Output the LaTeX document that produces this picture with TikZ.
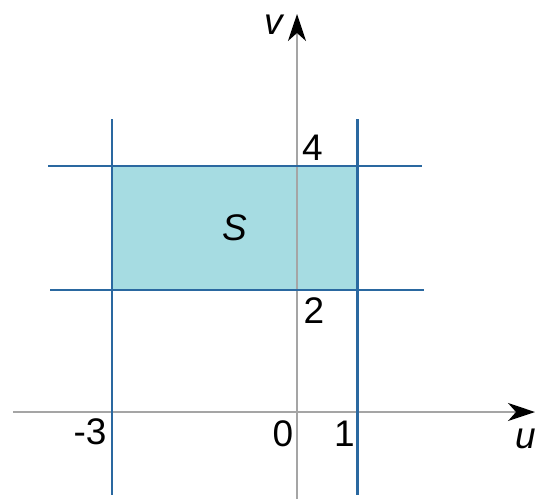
\documentclass[tikz,border=0pt]{standalone}
\usepackage{fontspec}
\setmainfont{Liberation Sans}
\usetikzlibrary{arrows.meta}
\definecolor{regionfill}{RGB}{166,220,226}
\definecolor{boundblue}{RGB}{42,104,160}
\definecolor{axisgray}{RGB}{165,165,165}
\tikzset{
  axisline/.style={draw=axisgray,line width=1.8pt,-{Stealth[length=27pt,width=18pt,inset=8pt,color=black]}},
  boundline/.style={draw=boundblue,line width=2.8pt},
  lab/.style={inner sep=0pt,font=\fontsize{37}{44}\selectfont},
}
\begin{document}
\begin{tikzpicture}[x=1pt,y=-1pt]
\useasboundingbox (0,0) rectangle (537,499);
% region
\fill[regionfill] (112,166) rectangle (357.5,290);
% axes
\coordinate (uL) at (13,412);
\coordinate (uR) at (535,412);
\coordinate (vB) at (297,499);
\coordinate (vT) at (297,14);
\draw[axisline] (uL) -- (uR);
\draw[axisline] (vB) -- (vT);
% boundary lines
\coordinate (a1) at (112,119); \coordinate (a2) at (112,495);
\coordinate (b1) at (357.5,119); \coordinate (b2) at (357.5,495);
\coordinate (c1) at (48,166); \coordinate (c2) at (422,166);
\coordinate (d1) at (50,290); \coordinate (d2) at (424,290);
\draw[boundline] (a1) -- (a2);
\draw[boundline] (b1) -- (b2);
\draw[boundline] (c1) -- (c2);
\draw[boundline] (d1) -- (d2);
% labels
\node[lab] (lv) at (273.5,25) {\itshape v};
\node[lab] (lu) at (526,439) {\itshape u};
\node[lab] (l4) at (312.5,148) {4};
\node[lab] (l2) at (314,311) {2};
\node[lab] (lm3) at (90,432) {-3};
\node[lab] (l0) at (283,434) {0};
\node[lab] (l1) at (344.5,434) {1};
\node[lab] (lS) at (235,228) {\itshape S};
\end{tikzpicture}
\end{document}
